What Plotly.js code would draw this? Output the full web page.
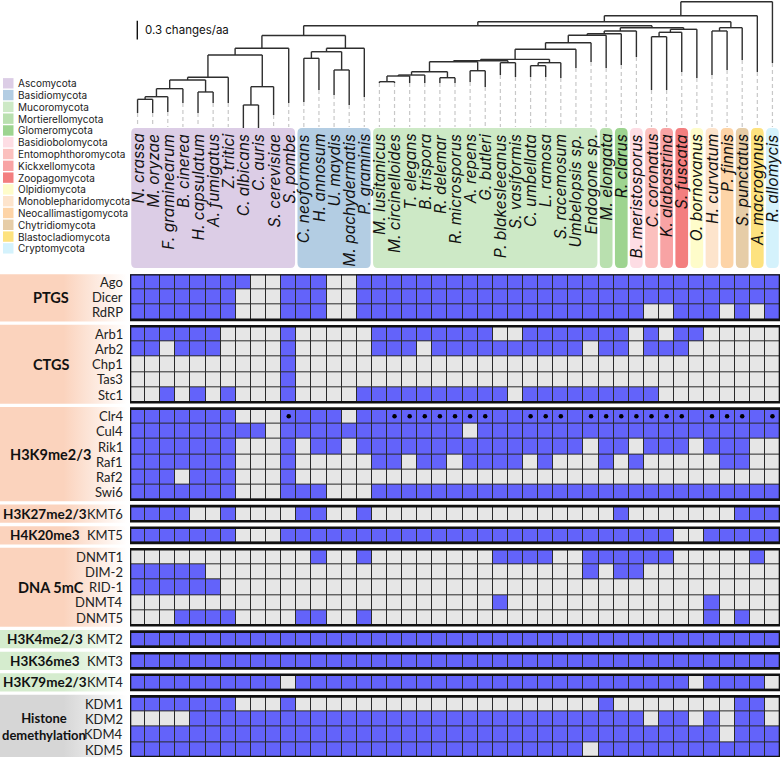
<!DOCTYPE html>
<html><head><meta charset="utf-8">
<script src="https://cdn.plot.ly/plotly-3.0.1.min.js"></script>
<style>html,body{margin:0;padding:0;background:#fff}#chart{width:783px;height:759px}</style>
</head><body><div id="chart"></div>
<script>
// ---------------- DATA ----------------
const species = ["N. crassa","M. oryzae","F. graminearum","B. cinerea","H. capsulatum","A. fumigatus","Z. tritici","C. albicans","C. auris","S. cerevisiae","S. pombe",
"C. neoformans","H. annosum","U. maydis","M. pachydermatis","P. graminis",
"M. lusitanicus","M. circinelloides","T. elegans","B. trispora","R. delemar","R. microsporus","A. repens","G. butleri","P. blakesleeanus","S. vasiformis","C. umbellata","L. ramosa","S. racemosum","Umbelopsis sp.","Endogone sp.",
"M. elongata","R. clarus","B. meristosporus","C. coronatus","K. alabastrina","S. fuscata","O. bornovanus","H. curvatum","P. finnis","S. punctatus","A. macrogynus","R. allomycis"];
const phyla = ["Ascomycota","Basidiomycota","Mucoromycota","Mortierellomycota","Glomeromycota","Basidiobolomycota","Entomophthoromycota","Kickxellomycota","Zoopagomycota","Olpidiomycota","Monoblepharidomycota","Neocallimastigomycota","Chytridiomycota","Blastocladiomycota","Cryptomycota"];
const phylumColors = ["#dccde6","#b3cde3","#cde9c6","#b9e0af","#9dd490","#fddde4","#fbc0be","#f8a3a4","#f37e7f","#fefcca","#fde4cc","#fdd4a7","#e6cda7","#fde27f","#d4f2fc"];
const speciesPhylum = [0,0,0,0,0,0,0,0,0,0,0, 1,1,1,1,1, 2,2,2,2,2,2,2,2,2,2,2,2,2,2,2, 3,4,5,6,7,8,9,10,11,12,13,14];

// phylogeny (Newick, tip = column index, number after ':' = node depth in changes/aa from root)
const asco = "(((((((0,1):1.567,2):1.525,3):1.396,(4,5):1.449):1.257,6):1.213,((7,8):1.658,9):1.364):0.856,10):0.748";
const basidio = "(((11,12):0.909,(13,14):1.096):0.803,15):0.748";
const mucoroGroup = "((((((((((((16,17):1.284,18):1.193,19):1.177,(20,21):1.220):1.124,(22,23):1.108):0.963,(24,25):0.979):0.947,((26,27):1.027,28):0.979):0.925,29):0.764,30):0.658,31):0.539,32):0.514,33):0.470";
const zoopOlp = "(((34,35):0.562,36):0.491,37):0.443";
const chytrids = "((38,39):0.470,40):0.417";
const newick = "((((" + "(" + asco + "," + basidio + "):0.543" + ",(" + mucoroGroup + "," + zoopOlp + "):0.417):0.385," + chytrids + "):0.321,41):0.225,42):0";
const tipDepth = [1.787,1.787,1.770,1.626,1.787,1.626,1.626,2.027,2.027,1.819,1.626,1.610,1.417,1.498,1.658,1.530,1.305,1.305,1.305,1.305,1.305,1.305,1.289,1.369,1.177,1.209,1.209,1.209,1.225,1.064,0.968,1.064,1.016,0.888,1.417,1.417,1.128,1.225,1.177,1.096,0.936,1.128,0.984];
const scaleBar = 0.3;

// gene presence (1 = present)
const Ago   = [1,1,1,1,1,1,1,1,0,0,1,1,1,0,0,1,1,1,1,1,1,1,1,1,1,1,1,1,1,1,1,1,1,1,1,1,1,1,1,1,1,1,1];
const Dicer = [1,1,1,1,1,1,1,0,0,0,1,1,1,0,0,1,1,1,1,1,1,1,1,1,1,1,1,1,1,1,1,1,1,1,1,1,1,1,1,1,1,1,1];
const RdRP  = [1,1,1,1,1,1,1,0,0,0,1,1,1,0,0,1,1,1,1,1,1,1,1,1,1,1,1,1,1,1,1,1,1,1,0,0,1,1,1,0,1,0,1];
const Arb1  = [1,1,1,1,1,1,0,0,0,0,1,0,0,0,0,0,1,1,1,1,1,1,1,1,0,0,1,1,1,1,1,1,1,0,1,0,1,1,0,0,0,0,0];
const Arb2  = [1,1,0,1,1,1,0,0,0,0,1,0,0,0,0,0,1,1,1,0,1,1,1,1,1,1,1,1,1,1,0,1,1,0,1,1,1,0,0,0,0,0,0];
const Chp1  = [0,0,0,0,0,0,0,0,0,0,1,0,0,0,0,0,0,0,0,0,0,0,0,0,0,0,0,0,0,0,0,0,0,0,0,0,0,0,0,0,0,0,0];
const Tas3  = [0,0,0,0,0,0,0,0,0,0,1,0,0,0,0,0,0,0,0,0,0,0,0,0,0,0,0,0,0,0,0,0,0,0,0,0,0,0,0,0,0,0,0];
const Stc1  = [0,0,1,0,1,0,1,0,0,0,1,0,0,0,0,1,1,1,1,1,1,1,1,1,1,0,1,1,1,1,1,1,1,1,1,0,0,0,0,0,0,0,0];
const Clr4  = [1,1,1,1,1,1,1,0,0,0,1,1,1,1,0,1,1,1,1,1,1,1,1,1,1,1,1,1,1,1,1,1,1,1,1,1,1,1,1,1,1,1,1];
const Clr4dot=[0,0,0,0,0,0,0,0,0,0,1,0,0,0,0,0,0,1,1,1,1,1,1,1,0,0,1,1,1,0,1,1,1,1,1,1,1,0,1,1,1,0,1];
const Cul4  = [1,1,1,1,1,1,1,1,1,0,1,1,1,1,1,1,1,1,1,1,1,1,0,1,1,1,1,1,1,1,1,1,1,1,1,1,1,1,1,1,1,1,1];
const Rik1  = [1,1,1,1,1,1,1,0,0,0,1,0,1,1,0,1,1,1,1,1,1,1,1,1,1,1,1,1,1,1,0,1,1,0,1,1,1,0,1,1,1,0,0];
const Raf1  = [1,1,1,1,1,1,1,0,0,0,1,0,0,0,0,0,1,1,0,1,1,0,1,1,1,1,0,1,0,0,0,1,0,1,0,0,0,0,0,1,1,0,0];
const Raf2  = [1,1,1,0,1,1,1,0,0,0,1,0,0,0,0,0,0,0,0,0,0,0,0,0,0,0,0,0,0,0,0,0,0,0,0,0,0,0,0,0,0,0,0];
const Swi6  = [1,1,1,1,1,1,1,0,0,0,1,1,1,0,0,0,1,1,1,1,1,1,1,1,1,1,1,1,1,1,1,1,1,1,1,1,1,1,1,1,1,1,1];
const KMT6  = [1,1,1,1,0,0,1,0,0,0,0,1,1,0,0,1,0,0,0,0,0,0,0,0,0,0,0,0,0,0,0,0,1,0,0,0,0,0,0,0,1,1,1];
const KMT5  = [1,1,1,1,1,1,1,0,0,0,1,1,1,1,1,1,1,1,1,1,1,1,1,1,1,1,1,1,1,1,1,1,1,1,1,1,0,0,1,1,1,1,1];
const DNMT1 = [0,0,0,0,0,0,0,0,0,0,0,0,1,0,0,1,0,0,0,0,0,0,0,0,1,1,1,1,0,0,1,1,1,1,1,1,0,0,0,0,0,1,0];
const DIM2  = [1,1,1,1,1,0,0,0,0,0,0,0,0,0,0,0,0,0,0,0,0,0,0,0,0,0,0,0,0,0,1,0,1,1,0,0,0,0,0,0,0,0,0];
const RID1  = [1,1,1,1,1,1,0,0,0,0,0,0,0,0,0,0,0,0,0,0,0,0,0,0,0,0,0,0,0,0,0,0,0,0,0,0,0,0,0,0,0,0,0];
const DNMT4 = [0,0,0,0,0,0,0,0,0,0,0,0,0,0,0,0,0,0,0,0,0,0,0,0,1,0,0,0,0,0,0,0,0,0,0,0,0,0,1,0,0,0,0];
const DNMT5 = [0,0,0,1,1,1,1,0,0,0,0,1,1,0,0,1,0,0,0,0,0,0,0,0,0,0,0,0,0,0,0,0,0,0,0,0,0,0,1,0,1,0,0];
const KMT2  = [1,1,1,1,1,1,1,1,1,1,1,1,1,1,1,1,1,1,1,1,1,1,1,1,1,1,1,1,1,1,1,1,1,1,1,1,1,1,1,1,1,1,1];
const KMT3  = [1,1,1,1,1,1,1,1,1,1,1,1,1,1,1,1,1,1,1,1,1,1,1,1,1,1,1,1,1,1,1,1,1,1,1,1,1,1,1,1,1,1,1];
const KMT4  = [1,1,1,1,1,1,1,1,1,1,0,1,1,1,1,1,1,1,1,1,1,1,1,1,1,1,1,1,1,1,1,1,1,1,1,1,1,0,1,1,1,1,0];
const KDM1  = [1,1,1,1,1,1,1,0,0,0,1,0,0,0,0,0,0,0,0,0,0,0,0,0,0,0,0,0,0,0,0,1,0,0,0,0,0,0,0,0,1,1,0];
const KDM2  = [0,0,0,0,1,1,1,1,1,1,1,1,1,1,1,1,1,1,1,1,1,1,1,1,1,1,1,1,1,1,1,1,1,1,0,1,1,0,1,0,1,1,0];
const KDM4  = [1,1,1,1,1,1,1,1,1,1,1,1,1,1,1,1,1,1,1,1,1,1,1,1,1,1,1,1,1,1,1,1,1,1,1,1,1,1,1,0,1,1,1];
const KDM5  = [1,1,1,1,1,1,1,1,1,1,1,1,1,1,1,1,1,1,1,1,1,1,1,1,1,1,1,1,1,1,0,1,1,1,1,1,1,1,1,1,1,1,1];

const groups = ["PTGS","CTGS","H3K9me2/3","H3K27me2/3","H4K20me3","DNA 5mC","H3K4me2/3","H3K36me3","H3K79me2/3","Histone<br>demethylation"];
const groupGenes = [["Ago","Dicer","RdRP"],["Arb1","Arb2","Chp1","Tas3","Stc1"],["Clr4","Cul4","Rik1","Raf1","Raf2","Swi6"],["KMT6"],["KMT5"],["DNMT1","DIM-2","RID-1","DNMT4","DNMT5"],["KMT2"],["KMT3"],["KMT4"],["KDM1","KDM2","KDM4","KDM5"]];
const groupRows = [[Ago,Dicer,RdRP],[Arb1,Arb2,Chp1,Tas3,Stc1],[Clr4,Cul4,Rik1,Raf1,Raf2,Swi6],[KMT6],[KMT5],[DNMT1,DIM2,RID1,DNMT4,DNMT5],[KMT2],[KMT3],[KMT4],[KDM1,KDM2,KDM4,KDM5]];
const groupShade = ["#fbd3bd","#fbd3bd","#fbd3bd","#fbd3bd","#fbd3bd","#fbd3bd","#d5ecce","#d5ecce","#d5ecce","#d6d6d6"];

// ---------------- LAYOUT HELPERS ----------------
const W = 783, H = 759;
const px2py = p => 1 - p / H;
const GAP = 0.42;
const nCol = species.length;
const cols = species.map((_, i) => i);
const FONT = "Inter, Lato, 'DejaVu Sans', sans-serif";
const LFONT = "Lato, Inter, sans-serif";
const BLUE = "#6363fa", GREY = "#e6e6e6";

const traces = [];
const shapes = [];
const annotations = [];

let r = 0;
groupRows.forEach((rows, b) => {
  const ys = rows.map((_, k) => r + k + b * GAP);
  traces.push({type: "heatmap", x: cols, y: ys, z: rows, zmin: 0, zmax: 1,
    colorscale: [[0, GREY], [1, BLUE]], showscale: false, xgap: 1, ygap: 1,
    hoverinfo: "skip", xaxis: "x", yaxis: "y"});
  groupGenes[b].forEach((g, k) => annotations.push({text: g, xref: "paper", yref: "y", x: 124.5 / W, y: ys[k],
    xanchor: "right", yanchor: "middle", showarrow: false, font: {family: LFONT, size: 13, color: "#222"}}));
  const yc = (ys[0] + ys[ys.length - 1]) / 2;
  const multi = rows.length > 1;
  const gx = b === 9 ? 44 : (multi ? 51 : 45);
  const gs = b === 9 ? 13 : (multi ? 14.5 : 13.5);
  annotations.push({text: "<b>" + groups[b] + "</b>", xref: "paper", yref: "y", x: gx / W, y: yc,
    xanchor: "center", yanchor: "middle", showarrow: false, font: {family: LFONT, size: gs, color: "#111"}});
  shapes.push({type: "rect", xref: "x", yref: "y", x0: -0.5, x1: nCol - 0.5, y0: ys[0] - 0.5, y1: ys[ys.length - 1] + 0.5,
    fillcolor: "#2a2a2a", line: {width: 0}, layer: "below"});
  shapes.push({type: "rect", xref: "x", yref: "y", x0: -0.5, x1: nCol - 0.5, y0: ys[0] - 0.5, y1: ys[ys.length - 1] + 0.5,
    fillcolor: "rgba(0,0,0,0)", line: {width: 2.6, color: "#111"}, layer: "above"});
  const y0 = ys[0] - 0.6, y1 = ys[ys.length - 1] + 0.6;
  traces.push({type: "scatter", mode: "lines", x: [0, 127, 127, 0, 0], y: [y0, y0, y1, y1, y0], fill: "toself",
    fillgradient: {type: "horizontal", colorscale: [[0, groupShade[b]], [0.5, groupShade[b]], [1, "#ffffff"]]},
    line: {width: 0}, hoverinfo: "skip", showlegend: false, xaxis: "x2", yaxis: "y"});
  if (b === 2) {
    const dx = [], dy = [];
    Clr4dot.forEach((v, i) => { if (v) { dx.push(i); dy.push(ys[0]); } });
    traces.push({type: "scatter", mode: "markers", x: dx, y: dy, marker: {size: 4.5, color: "#000"}, hoverinfo: "skip", xaxis: "x", yaxis: "y"});
  }
  r += rows.length;
});
const yMax = r - 1 + (groupRows.length - 1) * GAP;

// ---------------- TREE ----------------
function parseNewick(s) {
  let i = 0;
  function num() { let t = ""; while (i < s.length && /[0-9.]/.test(s[i])) t += s[i++]; return parseFloat(t); }
  function node() {
    if (s[i] === "(") {
      i++; const kids = [node()];
      while (s[i] === ",") { i++; kids.push(node()); }
      i++; let d = 0; if (s[i] === ":") { i++; d = num(); }
      return {kids, depth: d};
    }
    return {tip: num()};
  }
  return node();
}
const root = parseNewick(newick);
const solidX = [], solidY = [];
function place(n) {
  if (n.tip !== undefined) { n.x = n.tip; n.y = tipDepth[n.tip]; return; }
  n.kids.forEach(place);
  n.x = (n.kids[0].x + n.kids[n.kids.length - 1].x) / 2; n.y = n.depth;
  solidX.push(n.kids[0].x, n.kids[n.kids.length - 1].x, null); solidY.push(n.y, n.y, null);
  n.kids.forEach(k => { solidX.push(k.x, k.x, null); solidY.push(n.y, k.y, null); });
}
place(root);
const PXU = 62.3;
const treeTopPx = 1.7, treeBotPx = 128;
const dashEnd = (127 - treeTopPx) / PXU;
const dashX = [], dashY = [];
tipDepth.forEach((d, i) => { if (d < dashEnd) { dashX.push(i, i, null); dashY.push(d, dashEnd, null); } });
traces.push({type: "scatter", mode: "lines", x: dashX, y: dashY, line: {color: "#c8c8c8", width: 1.2, dash: "4px,3px"}, hoverinfo: "skip", xaxis: "x", yaxis: "y2"});
traces.push({type: "scatter", mode: "lines", x: solidX, y: solidY, line: {color: "#2e2e2e", width: 1.4}, hoverinfo: "skip", xaxis: "x", yaxis: "y2"});

const sbTop = (20.7 - treeTopPx) / PXU;
shapes.push({type: "line", xref: "paper", yref: "y2", x0: 137.3 / W, x1: 137.3 / W, y0: sbTop, y1: sbTop + scaleBar, line: {color: "#111", width: 1.4}});
annotations.push({text: scaleBar + " changes/aa", xref: "paper", yref: "y2", x: 143 / W, y: sbTop + scaleBar / 2, xanchor: "left", yanchor: "middle",
  showarrow: false, font: {family: FONT, size: 11.5, color: "#111"}});

// ---------------- PHYLUM BOXES + SPECIES LABELS ----------------
const boxTop = px2py(128), boxBot = px2py(268);
let start = 0;
for (let i = 1; i <= nCol; i++) {
  if (i === nCol || speciesPhylum[i] !== speciesPhylum[start]) {
    const x0 = start - 0.5 + 0.08, x1 = i - 1 + 0.5 - 0.08;
    const rx = 0.3, ry = 5 / H;
    const p = `M ${x0 + rx},${boxTop} L ${x1 - rx},${boxTop} Q ${x1},${boxTop} ${x1},${boxTop - ry} L ${x1},${boxBot + ry} Q ${x1},${boxBot} ${x1 - rx},${boxBot} L ${x0 + rx},${boxBot} Q ${x0},${boxBot} ${x0},${boxBot + ry} L ${x0},${boxTop - ry} Q ${x0},${boxTop} ${x0 + rx},${boxTop} Z`;
    shapes.push({type: "path", xref: "x", yref: "paper", path: p, fillcolor: phylumColors[speciesPhylum[start]], line: {width: 0}, layer: "below"});
    start = i;
  }
}
species.forEach((s, i) => annotations.push({text: "<i>" + s + "</i>", xref: "x", yref: "paper", x: i, y: px2py(132), textangle: -90,
  xanchor: "center", yanchor: "top", showarrow: false, font: {family: FONT, size: 15.5, color: "#111"}}));

// ---------------- PHYLUM LEGEND ----------------
phyla.forEach((p, k) => {
  const yc = 83.3 + 11.79 * k;
  shapes.push({type: "rect", xref: "paper", yref: "paper", x0: 3 / W, x1: 13.5 / W, y0: px2py(yc - 5.2), y1: px2py(yc + 5.2),
    fillcolor: phylumColors[k], line: {width: 0}});
  annotations.push({text: p, xref: "paper", yref: "paper", x: 16 / W, y: px2py(yc), xanchor: "left", yanchor: "middle",
    showarrow: false, font: {family: FONT, size: 10, color: "#222"}});
});

const layout = {
  width: W, height: H, margin: {l: 0, r: 0, t: 0, b: 0}, paper_bgcolor: "#fff", plot_bgcolor: "rgba(0,0,0,0)",
  showlegend: false,
  xaxis: {domain: [130 / W, 780 / W], range: [-0.5, nCol - 0.5], visible: false, fixedrange: true},
  yaxis: {domain: [px2py(757.1), px2py(274.3)], range: [yMax + 0.5, -0.5], visible: false},
  xaxis2: {domain: [0, 130 / W], range: [0, 130], visible: false, anchor: "y"},
  yaxis2: {domain: [px2py(treeBotPx), 1], range: [(treeBotPx - treeTopPx) / PXU, -treeTopPx / PXU], visible: false, anchor: "x"},
  shapes, annotations
};
Plotly.newPlot("chart", traces, layout, {displayModeBar: false, staticPlot: true});
</script></body></html>
